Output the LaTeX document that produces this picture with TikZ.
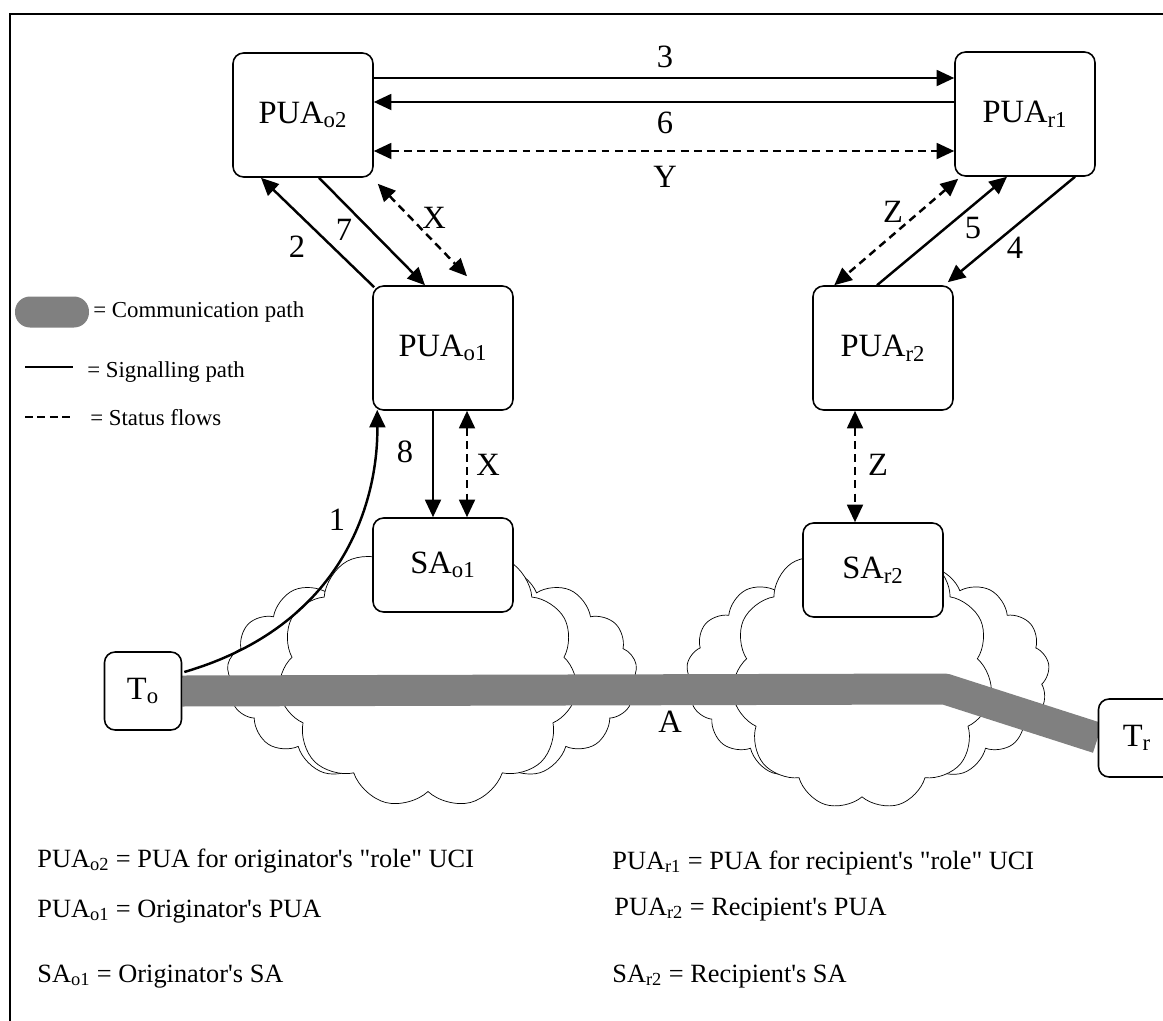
\documentclass[tikz,border=0pt]{standalone}
\usepackage{fontspec}
\setmainfont{Liberation Serif}
\usetikzlibrary{shapes, shapes.symbols, arrows.meta, positioning, calc, backgrounds}
\definecolor{commgray}{RGB}{128, 128, 128}
\newcommand{\subidx}[1]{\textsubscript{#1}}

\begin{document}
\begin{tikzpicture}[x=0.02cm, y=-0.02cm,
  puabox/.style={draw, fill=white, rounded corners=6pt, line width=0.9pt, minimum width=2.8cm, minimum height=2.48cm, inner sep=0pt, font=\fontsize{18.5}{21}\selectfont},
  sabox/.style={puabox, minimum height=1.88cm},
  tbox/.style={puabox, minimum width=1.54cm, minimum height=1.56cm},
  sig/.style={-{Triangle[length=10pt, width=9pt]}, line width=1.4pt},
  stat/.style={{Triangle[length=10pt, width=9pt]}-{Triangle[length=10pt, width=9pt]}, line width=1.4pt, dash pattern=on 4.5pt off 3pt},
  lbl/.style={font=\fontsize{18.5}{21}\selectfont, inner sep=0pt},
  netcloud/.style={cloud, cloud ignores aspect, draw, fill=white, line width=0.4pt, cloud puffs=#1, cloud puff arc=115, inner sep=0pt},
  commpath/.style={draw=commgray, line width=0.62cm, line join=round},
  key/.style={font=\fontsize{13}{15}\selectfont, anchor=west, inner sep=0pt},
  note/.style={font=\fontsize{15}{18}\selectfont, anchor=base west, inner sep=0pt},
]
  \useasboundingbox (0,0) rectangle (1163,1021);
  % frame
  \draw[line width=1.2pt] (10,1021) -- (10,14) -- (1163,14);

  % agents
  \node[puabox] (puao2) at (303, 115) {PUA\subidx{o2}};
  \node[puabox] (puar1) at (1025, 114) {PUA\subidx{r1}};
  \node[puabox] (puao1) at (443, 348) {PUA\subidx{o1}};
  \node[puabox] (puar2) at (883, 348) {PUA\subidx{r2}};
  \node[sabox] (sao1) at (443, 565) {SA\subidx{o1}};
  \node[sabox] (sar2) at (873, 570) {SA\subidx{r2}};
  \node[tbox] (to) at (143, 691) {T\subidx{o}};
  \node[tbox] (tr) at (1137, 738) {T\subidx{r}};

  % networks and communication path
  \begin{scope}[on background layer]
    \node[netcloud=17, minimum width=8.2cm, minimum height=4.6cm] (cloudo) at (432, 675) {};
    \node[netcloud=11, minimum width=6cm, minimum height=5.36cm] (cloudoin) at (428, 674) {};
    \node[netcloud=17, minimum width=7.26cm, minimum height=4.6cm] (cloudr) at (868, 675) {};
    \node[netcloud=11, minimum width=5.22cm, minimum height=5.36cm] (cloudrin) at (862, 676) {};
    \coordinate (bend) at (945, 689);
    \draw[commpath] (to.east) -- (bend) -- (tr.west);
  \end{scope}
  \node[lbl] (la) at (670, 722) {A};

  % signalling between role agents
  \draw[sig] ($(puao2.east)+(0,-37)$) -- ($(puar1.west)+(0,-36)$);
  \draw[sig] ($(puar1.west)+(0,-12)$) -- ($(puao2.east)+(0,-13)$);
  \draw[stat] ($(puao2.east)+(0,36)$) -- ($(puar1.west)+(0,37)$);
  \node[lbl] (l3) at (665, 57) {3};
  \node[lbl] (l6) at (665, 123) {6};
  \node[lbl] (ly) at (665, 177) {Y};

  % originator side
  \draw[sig] ($(puao1.north west)+(2,2)$) -- ($(puao2.south)+(-42,0)$);
  \draw[sig] ($(puao2.south)+(16,0)$) -- ($(puao1.north)+(-18,0)$);
  \draw[stat] ($(puao2.south east)+(4,6)$) -- ($(puao1.north)+(24,-9)$);
  \node[lbl] (l2) at (297, 247) {2};
  \node[lbl] (l7) at (344, 230) {7};
  \node[lbl] (lx1) at (434, 218) {X};
  \draw[sig] ($(puao1.south)+(-10,0)$) -- ($(sao1.north)+(-10,0)$);
  \draw[stat] ($(puao1.south)+(24,0)$) -- ($(sao1.north)+(24,0)$);
  \node[lbl] (l8) at (405, 452) {8};
  \node[lbl] (lx2) at (488, 465) {X};
  \draw[sig] ($(to.east)+(2,-19)$) .. controls (345, 625) and (378, 500) .. ($(puao1.south west)+(5,-1)$);
  \node[lbl] (l1) at (337, 520) {1};

  % recipient side
  \draw[sig] ($(puar1.south)+(50,0)$) -- ($(puar2.north east)+(-6,-3)$);
  \draw[sig] ($(puar2.north)+(-6,0)$) -- ($(puar1.south)+(-18,0)$);
  \draw[stat] ($(puar1.south west)+(4,2)$) -- ($(puar2.north west)+(22,0)$);
  \node[lbl] (l4) at (1015, 248) {4};
  \node[lbl] (l5) at (973, 228) {5};
  \node[lbl] (lz1) at (893, 212) {Z};
  \draw[stat] ($(puar2.south)+(-28,0)$) -- ($(sar2.north)+(-18,0)$);
  \node[lbl] (lz2) at (878, 465) {Z};

  % key
  \node[fill=commgray, rounded corners=0.3cm, minimum width=1.48cm, minimum height=0.62cm, inner sep=0pt] (keypath) at (52, 312) {};
  \node[key] (keycomm) at (93, 312) {= Communication path};
  \coordinate (sigA) at (25, 367);
  \coordinate (sigB) at (73, 367);
  \draw[line width=0.9pt] (sigA) -- (sigB);
  \node[key] (keysig) at (87, 372) {= Signalling path};
  \coordinate (statA) at (25, 417);
  \coordinate (statB) at (73, 417);
  \draw[line width=1.3pt, dash pattern=on 4.5pt off 2.6pt] (statA) -- (statB);
  \node[key] (keystat) at (90, 418) {= Status flows};

  % notes
  \node[note] (nt1) at (37, 867) {PUA\subidx{o2} = PUA for originator\textquotesingle s \textquotedbl role\textquotedbl{} UCI};
  \node[note] (nt2) at (37, 917) {PUA\subidx{o1} = Originator\textquotesingle s PUA};
  \node[note] (nt3) at (37, 982) {SA\subidx{o1} = Originator\textquotesingle s SA};
  \node[note] (nt4) at (612, 869) {PUA\subidx{r1} = PUA for recipient\textquotesingle s \textquotedbl role\textquotedbl{} UCI};
  \node[note] (nt5) at (614, 915) {PUA\subidx{r2} = Recipient\textquotesingle s PUA};
  \node[note] (nt6) at (612, 982) {SA\subidx{r2} = Recipient\textquotesingle s SA};
\end{tikzpicture}
\end{document}
